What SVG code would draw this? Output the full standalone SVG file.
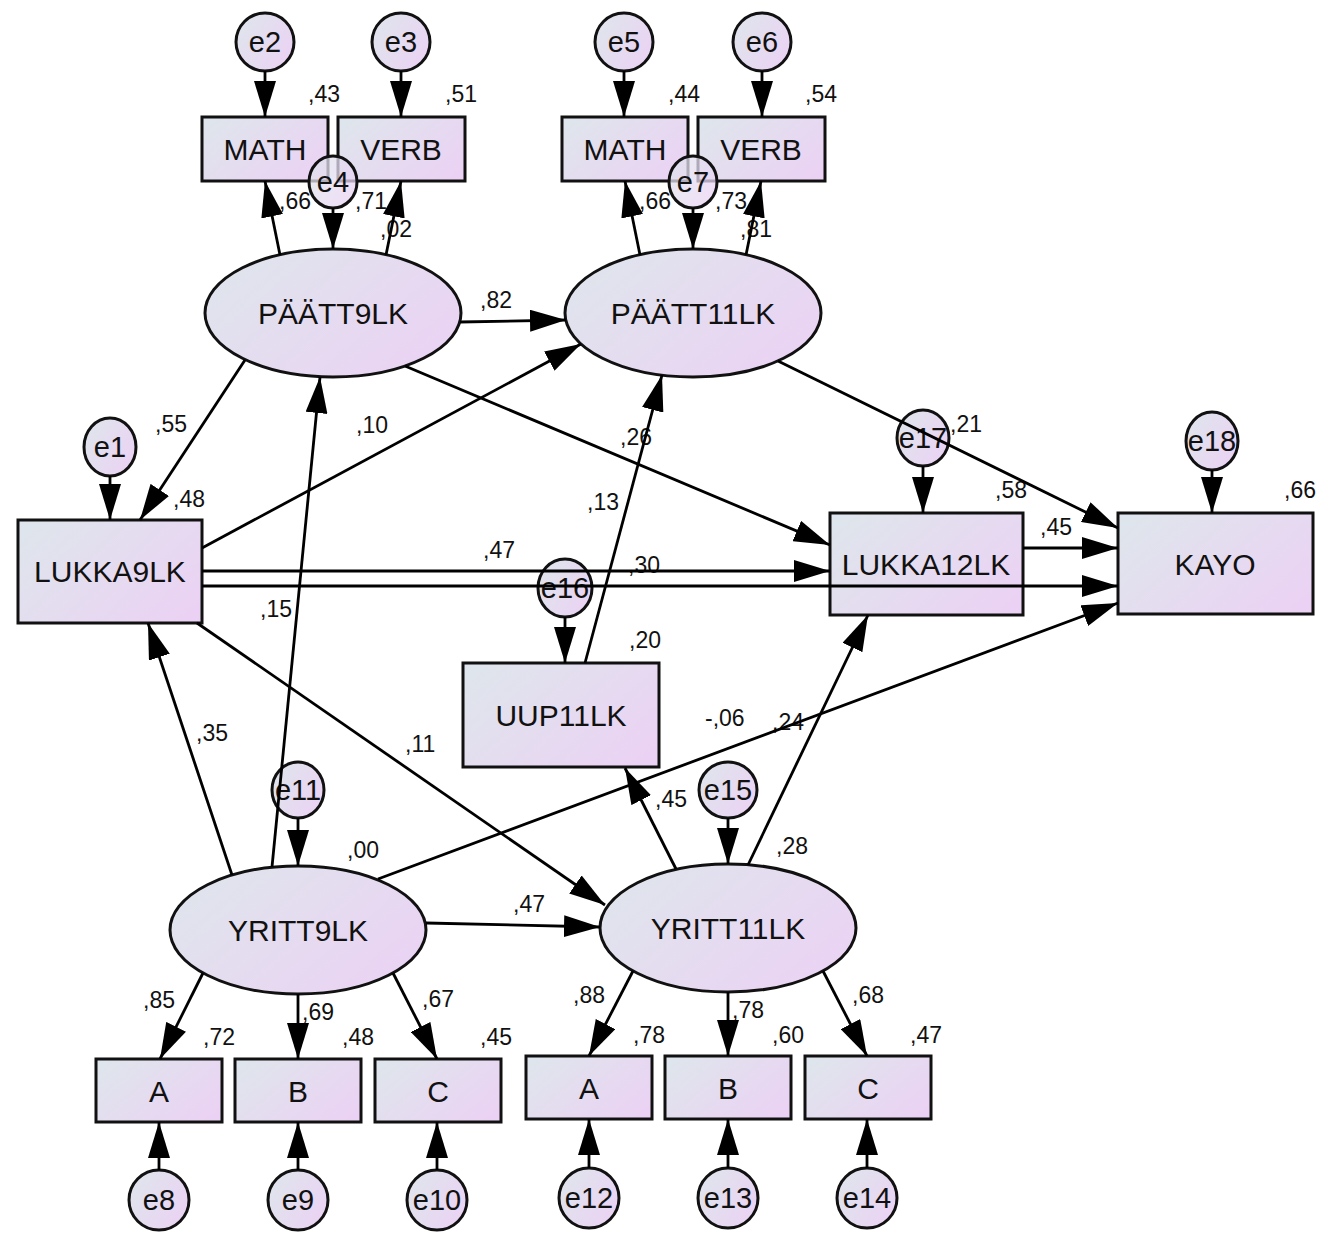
<svg xmlns="http://www.w3.org/2000/svg" width="1335" height="1234" viewBox="0 0 1335 1234">
<defs>
<linearGradient id="g" x1="0" y1="0.2" x2="1" y2="0.8">
<stop offset="0" stop-color="#dfe5ec"/>
<stop offset="1" stop-color="#ebd2f4"/>
</linearGradient>
<marker id="ah" markerUnits="userSpaceOnUse" markerWidth="36" markerHeight="22" viewBox="0 0 36 22" refX="36" refY="11" orient="auto">
<path d="M0,0 L36,11 L0,22 z" fill="#000"/>
</marker>
<style>
.n{fill:url(#g);stroke:#111;stroke-width:3}
.t{font-family:"Liberation Sans",Arial,sans-serif;font-size:30px;fill:#111;text-anchor:middle}
.te{font-family:"Liberation Sans",Arial,sans-serif;font-size:29px;fill:#111;text-anchor:middle}
.l{font-family:"Liberation Sans",Arial,sans-serif;font-size:23px;fill:#111}
.c line{stroke:#000;stroke-width:2.8;marker-end:url(#ah)}
</style>
</defs>
<rect width="1335" height="1234" fill="#fff"/>

<g id="e2"><ellipse class="n" cx="265" cy="42" rx="29" ry="29"/><text class="te" x="265" y="52">e2</text></g>
<g id="e3"><ellipse class="n" cx="401" cy="42" rx="29" ry="29"/><text class="te" x="401" y="52">e3</text></g>
<g id="e5"><ellipse class="n" cx="624" cy="42" rx="29" ry="29"/><text class="te" x="624" y="52">e5</text></g>
<g id="e6"><ellipse class="n" cx="762" cy="42" rx="29" ry="29"/><text class="te" x="762" y="52">e6</text></g>

<g id="math9"><rect class="n" x="202" y="117" width="126" height="64"/><text class="t" x="265" y="160">MATH</text></g>
<g id="verb9"><rect class="n" x="338" y="117" width="127" height="64"/><text class="t" x="401" y="160">VERB</text></g>
<g id="math11"><rect class="n" x="562" y="117" width="126" height="64"/><text class="t" x="625" y="160">MATH</text></g>
<g id="verb11"><rect class="n" x="698" y="117" width="127" height="64"/><text class="t" x="761" y="160">VERB</text></g>

<g id="e4"><ellipse class="n" cx="333" cy="182" rx="24" ry="26" fill-opacity="0.75"/><text class="te" x="333" y="192">e4</text></g>
<g id="e7"><ellipse class="n" cx="693" cy="182" rx="24" ry="26" fill-opacity="0.75"/><text class="te" x="693" y="192">e7</text></g>

<g id="paatt9lk"><ellipse class="n" cx="333" cy="313" rx="128" ry="64"/><text class="t" x="333" y="324">PÄÄTT9LK</text></g>
<g id="paatt11lk"><ellipse class="n" cx="693" cy="313" rx="128" ry="64"/><text class="t" x="693" y="324">PÄÄTT11LK</text></g>

<g id="e1"><ellipse class="n" cx="110" cy="447" rx="26" ry="29"/><text class="te" x="110" y="457">e1</text></g>
<g id="lukka9lk"><rect class="n" x="18" y="520" width="184" height="103"/><text class="t" x="110" y="582">LUKKA9LK</text></g>

<g id="e17"><ellipse class="n" cx="923" cy="438" rx="26" ry="28"/><text class="te" x="923" y="448">e17</text></g>
<g id="lukka12lk"><rect class="n" x="830" y="513" width="193" height="102"/><text class="t" x="926" y="575">LUKKA12LK</text></g>

<g id="e18"><ellipse class="n" cx="1212" cy="441" rx="26" ry="29"/><text class="te" x="1212" y="451">e18</text></g>
<g id="kayo"><rect class="n" x="1118" y="513" width="195" height="101"/><text class="t" x="1215" y="575">KAYO</text></g>

<g id="e16"><ellipse class="n" cx="565" cy="588" rx="27" ry="29"/><text class="te" x="565" y="598">e16</text></g>
<g id="uup11lk"><rect class="n" x="463" y="663" width="196" height="104"/><text class="t" x="561" y="726">UUP11LK</text></g>

<g id="e11"><ellipse class="n" cx="298" cy="790" rx="26" ry="28"/><text class="te" x="298" y="800">e11</text></g>
<g id="e15"><ellipse class="n" cx="728" cy="790" rx="29" ry="28"/><text class="te" x="728" y="800">e15</text></g>

<g id="yritt9lk"><ellipse class="n" cx="298" cy="930" rx="128" ry="64"/><text class="t" x="298" y="941">YRITT9LK</text></g>
<g id="yritt11lk"><ellipse class="n" cx="728" cy="928" rx="128" ry="64"/><text class="t" x="728" y="939">YRITT11LK</text></g>

<g id="a9"><rect class="n" x="96" y="1059" width="126" height="63"/><text class="t" x="159" y="1102">A</text></g>
<g id="b9"><rect class="n" x="235" y="1059" width="126" height="63"/><text class="t" x="298" y="1102">B</text></g>
<g id="c9"><rect class="n" x="375" y="1059" width="126" height="63"/><text class="t" x="438" y="1102">C</text></g>
<g id="a11"><rect class="n" x="526" y="1056" width="126" height="63"/><text class="t" x="589" y="1099">A</text></g>
<g id="b11"><rect class="n" x="665" y="1056" width="126" height="63"/><text class="t" x="728" y="1099">B</text></g>
<g id="c11"><rect class="n" x="805" y="1056" width="126" height="63"/><text class="t" x="868" y="1099">C</text></g>

<g id="e8"><ellipse class="n" cx="159" cy="1200" rx="30" ry="30"/><text class="te" x="159" y="1210">e8</text></g>
<g id="e9"><ellipse class="n" cx="298" cy="1200" rx="30" ry="30"/><text class="te" x="298" y="1210">e9</text></g>
<g id="e10"><ellipse class="n" cx="437" cy="1200" rx="30" ry="30"/><text class="te" x="437" y="1210">e10</text></g>
<g id="e12"><ellipse class="n" cx="589" cy="1198" rx="30" ry="30"/><text class="te" x="589" y="1208">e12</text></g>
<g id="e13"><ellipse class="n" cx="728" cy="1198" rx="30" ry="30"/><text class="te" x="728" y="1208">e13</text></g>
<g id="e14"><ellipse class="n" cx="867" cy="1198" rx="30" ry="30"/><text class="te" x="867" y="1208">e14</text></g>

<g id="labels">
<text class="l" x="308" y="102">,43</text>
<text class="l" x="445" y="102">,51</text>
<text class="l" x="668" y="102">,44</text>
<text class="l" x="805" y="102">,54</text>
<text class="l" x="279" y="209">,66</text>
<text class="l" x="355" y="209">,71</text>
<text class="l" x="380" y="237">,02</text>
<text class="l" x="639" y="209">,66</text>
<text class="l" x="715" y="209">,73</text>
<text class="l" x="740" y="237">,81</text>
<text class="l" x="480" y="308">,82</text>
<text class="l" x="155" y="432">,55</text>
<text class="l" x="356" y="433">,10</text>
<text class="l" x="173" y="507">,48</text>
<text class="l" x="620" y="445">,26</text>
<text class="l" x="587" y="510">,13</text>
<text class="l" x="950" y="432">,21</text>
<text class="l" x="995" y="498">,58</text>
<text class="l" x="1284" y="498">,66</text>
<text class="l" x="1040" y="535">,45</text>
<text class="l" x="483" y="558">,47</text>
<text class="l" x="628" y="573">,30</text>
<text class="l" x="260" y="617">,15</text>
<text class="l" x="629" y="648">,20</text>
<text class="l" x="196" y="741">,35</text>
<text class="l" x="405" y="752">,11</text>
<text class="l" x="705" y="726">-,06</text>
<text class="l" x="772" y="730">,24</text>
<text class="l" x="655" y="807">,45</text>
<text class="l" x="776" y="854">,28</text>
<text class="l" x="347" y="858">,00</text>
<text class="l" x="513" y="912">,47</text>
<text class="l" x="143" y="1008">,85</text>
<text class="l" x="302" y="1020">,69</text>
<text class="l" x="422" y="1007">,67</text>
<text class="l" x="203" y="1045">,72</text>
<text class="l" x="342" y="1045">,48</text>
<text class="l" x="480" y="1045">,45</text>
<text class="l" x="573" y="1003">,88</text>
<text class="l" x="732" y="1018">,78</text>
<text class="l" x="852" y="1003">,68</text>
<text class="l" x="633" y="1043">,78</text>
<text class="l" x="772" y="1043">,60</text>
<text class="l" x="910" y="1043">,47</text>
</g>

<g id="connectors" class="c">
<line x1="265" y1="71" x2="265" y2="117"/>
<line x1="401" y1="71" x2="401" y2="117"/>
<line x1="624" y1="71" x2="624" y2="117"/>
<line x1="762" y1="71" x2="762" y2="117"/>
<line x1="280" y1="255" x2="265" y2="181"/>
<line x1="386" y1="255" x2="401" y2="181"/>
<line x1="333" y1="208" x2="333" y2="249"/>
<line x1="640" y1="255" x2="625" y2="181"/>
<line x1="746" y1="255" x2="761" y2="181"/>
<line x1="693" y1="208" x2="693" y2="249"/>
<line x1="460" y1="322" x2="566" y2="320"/>
<line x1="245" y1="360" x2="140" y2="520"/>
<line x1="405" y1="366" x2="830" y2="545"/>
<line x1="202" y1="548" x2="581" y2="344"/>
<line x1="778" y1="361" x2="1118" y2="528"/>
<line x1="110" y1="476" x2="110" y2="520"/>
<line x1="923" y1="466" x2="923" y2="513"/>
<line x1="1212" y1="470" x2="1212" y2="513"/>
<line x1="202" y1="571" x2="830" y2="571"/>
<line x1="202" y1="586" x2="1118" y2="586"/>
<line x1="1023" y1="548" x2="1118" y2="548"/>
<line x1="565" y1="617" x2="565" y2="663"/>
<line x1="585" y1="663" x2="662" y2="375"/>
<line x1="272" y1="867" x2="320" y2="377"/>
<line x1="232" y1="875" x2="148" y2="623"/>
<line x1="197" y1="623" x2="605" y2="905"/>
<line x1="378" y1="879" x2="1118" y2="603"/>
<line x1="426" y1="923" x2="600" y2="927"/>
<line x1="298" y1="818" x2="298" y2="866"/>
<line x1="728" y1="818" x2="728" y2="864"/>
<line x1="676" y1="869" x2="625" y2="768"/>
<line x1="748" y1="865" x2="868" y2="615"/>
<line x1="203" y1="973" x2="160" y2="1059"/>
<line x1="298" y1="994" x2="298" y2="1059"/>
<line x1="393" y1="973" x2="437" y2="1059"/>
<line x1="633" y1="971" x2="589" y2="1056"/>
<line x1="728" y1="992" x2="728" y2="1056"/>
<line x1="823" y1="971" x2="867" y2="1056"/>
<line x1="159" y1="1170" x2="159" y2="1122"/>
<line x1="298" y1="1170" x2="298" y2="1122"/>
<line x1="437" y1="1170" x2="437" y2="1122"/>
<line x1="589" y1="1168" x2="589" y2="1119"/>
<line x1="728" y1="1168" x2="728" y2="1119"/>
<line x1="867" y1="1168" x2="867" y2="1119"/>
</g>
</svg>
